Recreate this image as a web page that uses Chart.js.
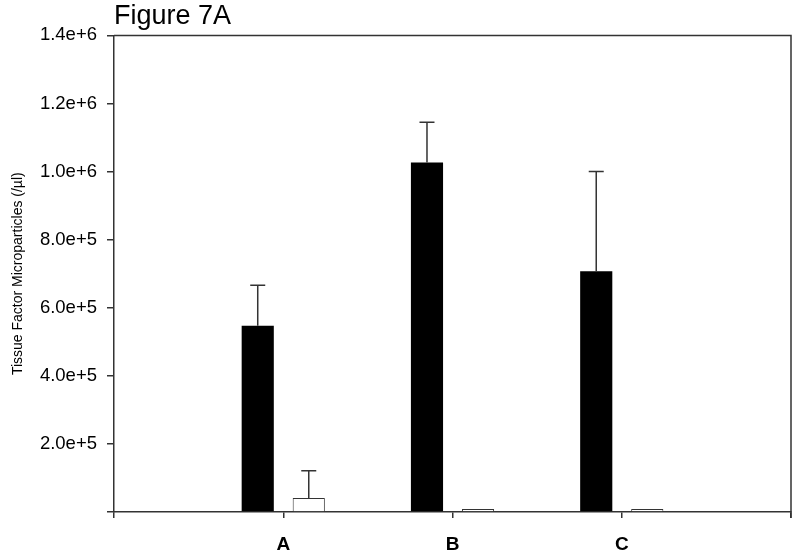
<!DOCTYPE html>
<html>
<head>
<meta charset="utf-8">
<script src="https://cdn.jsdelivr.net/npm/chart.js@4.4.1/dist/chart.umd.min.js"></script>
<style>
  html, body { margin: 0; padding: 0; background: #fff; overflow: hidden; }
  #wrap { width: 800px; height: 559px; }
  canvas { display: block; }
</style>
</head>
<body>
<div id="wrap"><canvas id="fig7a"></canvas></div>
<script>
  // values
  const categories = ['A', 'B', 'C'];
  const blackValues = [547000, 1027000, 707000];
  const blackErrors = [119000, 118000, 293000];
  const whiteValues = [41000, 9000, 9000];
  const whiteErrors = [80000, 0, 0];
  const yTicks = [0, 200000, 400000, 600000, 800000, 1000000, 1200000, 1400000];

  // empty slots at both ends so the axis runs one step past A and C
  const labels = ['', ...categories, ''];
  const pad = (arr) => [null, ...arr, null];

  const axisColor = '#333';
  const font = 'Liberation Sans, Arial, sans-serif';

  const errorBars = {
    id: 'errorBars',
    afterDatasetsDraw(chart) {
      const { ctx } = chart;
      const y = chart.scales.y;
      ctx.save();
      ctx.strokeStyle = axisColor;
      ctx.lineWidth = 1.5;
      chart.data.datasets.forEach((ds, i) => {
        const meta = chart.getDatasetMeta(i);
        meta.data.forEach((bar, j) => {
          const err = ds.errors[j];
          const v = ds.data[j];
          if (v == null || !err) return;
          const top = y.getPixelForValue(v + err);
          ctx.beginPath();
          ctx.moveTo(bar.x, bar.y);
          ctx.lineTo(bar.x, top);
          ctx.moveTo(bar.x - 7.5, top);
          ctx.lineTo(bar.x + 7.5, top);
          ctx.stroke();
        });
      });
      ctx.restore();
    }
  };

  const frame = {
    id: 'frame',
    afterDraw(chart) {
      const { ctx, chartArea: a } = chart;
      ctx.save();
      ctx.strokeStyle = axisColor;
      ctx.lineWidth = 1.5;
      ctx.beginPath();
      ctx.moveTo(a.left, a.top);
      ctx.lineTo(a.right, a.top);
      ctx.lineTo(a.right, a.bottom + 6);
      ctx.stroke();
      ctx.restore();
    }
  };

  new Chart(document.getElementById('fig7a'), {
    type: 'bar',
    data: {
      labels,
      datasets: [
        {
          data: pad(blackValues),
          errors: pad(blackErrors),
          backgroundColor: '#000',
          borderColor: '#000',
          borderWidth: 0,
        },
        {
          data: pad(whiteValues),
          errors: pad(whiteErrors),
          backgroundColor: '#fff',
          borderColor: axisColor,
          borderWidth: 1,
        },
      ],
    },
    options: {
      responsive: true,
      maintainAspectRatio: false,
      animation: false,
      categoryPercentage: 0.603,
      barPercentage: 0.63,
      layout: { padding: { left: 0, right: 9, top: 0, bottom: 0 } },
      plugins: {
        legend: { display: false },
        tooltip: { enabled: false },
        title: {
          display: true,
          text: 'Figure 7A',
          align: 'start',
          fullSize: false,
          color: '#000',
          font: { family: font, size: 27, weight: 'normal', lineHeight: 1.2 },
          padding: { top: 0, bottom: 3 },
        },
      },
      scales: {
        x: {
          offset: false,
          afterFit: (s) => { s.height = 47; s.paddingLeft = 0; s.paddingRight = 9; },
          border: { display: true, color: axisColor, width: 1.5 },
          grid: { offset: false, drawOnChartArea: false, drawTicks: true, tickLength: 6, color: axisColor, lineWidth: 1.5 },
          ticks: {
            color: '#000',
            padding: 15,
            autoSkip: false,
            maxRotation: 0,
            font: { family: font, size: 19, weight: 'bold' },
          },
        },
        y: {
          min: 0,
          max: 1400000,
          afterFit: (s) => { s.width = 114; },
          afterBuildTicks: (s) => { s.ticks = yTicks.map((v) => ({ value: v })); },
          border: { display: true, color: axisColor, width: 1.5 },
          grid: { drawOnChartArea: false, drawTicks: true, tickLength: 7, color: axisColor, lineWidth: 1.5 },
          ticks: {
            color: '#000',
            padding: 10,
            font: { family: font, size: 18.5 },
            callback: (v) => (v === 0 ? '' : Number(v).toExponential(1)),
          },
          title: {
            display: true,
            text: 'Tissue Factor Microparticles (/µl)',
            color: '#000',
            font: { family: font, size: 14 },
            padding: { top: 10, bottom: 0 },
          },
        },
      },
    },
    plugins: [errorBars, frame],
  });
</script>
</body>
</html>
